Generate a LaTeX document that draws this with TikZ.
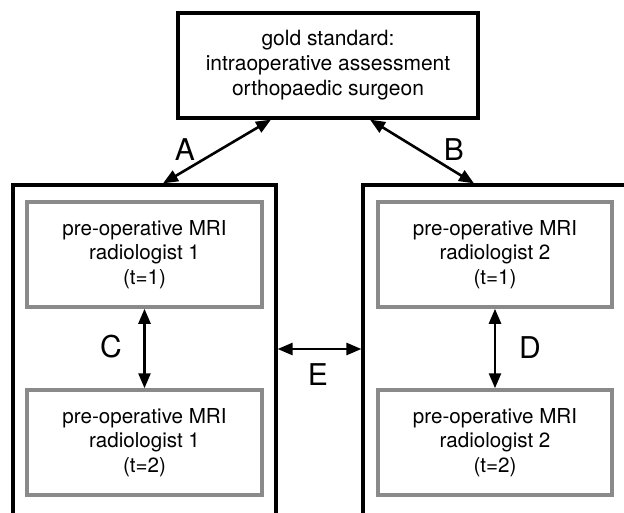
\documentclass[tikz,border=0pt]{standalone}
\usepackage{fontspec}
\setmainfont{TeX Gyre Heros}
\usetikzlibrary{arrows.meta}
\definecolor{boxgray}{HTML}{8A8A8A}
\begin{document}
\begin{tikzpicture}[x=1pt,y=-1pt,
  blackbox/.style={draw=black,line width=3.2pt,inner sep=0pt,align=center,font=\fontsize{21}{25}\selectfont},
  graybox/.style={draw=boxgray,line width=3.5pt,inner sep=0pt,align=center,font=\fontsize{20.6}{24.5}\selectfont},
  arr/.style={line width=2.6pt,{Triangle[length=15pt,width=12pt]}-{Triangle[length=15pt,width=12pt]}},
  lab/.style={font=\fontsize{30}{30}\selectfont,inner sep=0pt}]
\useasboundingbox (0,0) rectangle (624,512);
\clip (0,0) rectangle (624,512);
\fill[white] (0,0) rectangle (624,512);
\node[blackbox,minimum width=300pt,minimum height=105pt] (top) at (328,65.5)
  {gold standard:\\intraoperative assessment\\orthopaedic surgeon};
\node[blackbox,minimum width=263pt,minimum height=350pt] (lout) at (144.5,360) {};
\node[blackbox,minimum width=264pt,minimum height=350pt] (rout) at (495,360) {};
\node[graybox,minimum width=235pt,minimum height=105pt] (l1) at (144.5,254.5)
  {pre-operative MRI\\radiologist 1\\(t=1)};
\node[graybox,minimum width=235pt,minimum height=105pt] (l2) at (144.5,442.5)
  {pre-operative MRI\\radiologist 1\\(t=2)};
\node[graybox,minimum width=234pt,minimum height=105pt] (r1) at (495,254.5)
  {pre-operative MRI\\radiologist 2\\(t=1)};
\node[graybox,minimum width=234pt,minimum height=105pt] (r2) at (495,442.5)
  {pre-operative MRI\\radiologist 2\\(t=2)};
\coordinate (aT) at ([xshift=-57pt]top.south);
\coordinate (aB) at ([xshift=18.5pt]lout.north);
\coordinate (bT) at ([xshift=42pt]top.south);
\coordinate (bB) at ([xshift=-21pt]rout.north);
\coordinate (eL) at ([yshift=11pt]lout.east);
\coordinate (eR) at ([yshift=11pt]rout.west);
\draw[arr] (aT) -- (aB);
\draw[arr] (bT) -- (bB);
\draw[arr] (l1.south) -- (l2.north);
\draw[arr] (r1.south) -- (r2.north);
\draw[arr] (eL) -- (eR);
\node[lab] (la) at (185,150) {A};
\node[lab] (lb) at (454,150) {B};
\node[lab] (lc) at (111,347) {C};
\node[lab] (ld) at (530,348) {D};
\node[lab] (le) at (318,375) {E};
\end{tikzpicture}
\end{document}
